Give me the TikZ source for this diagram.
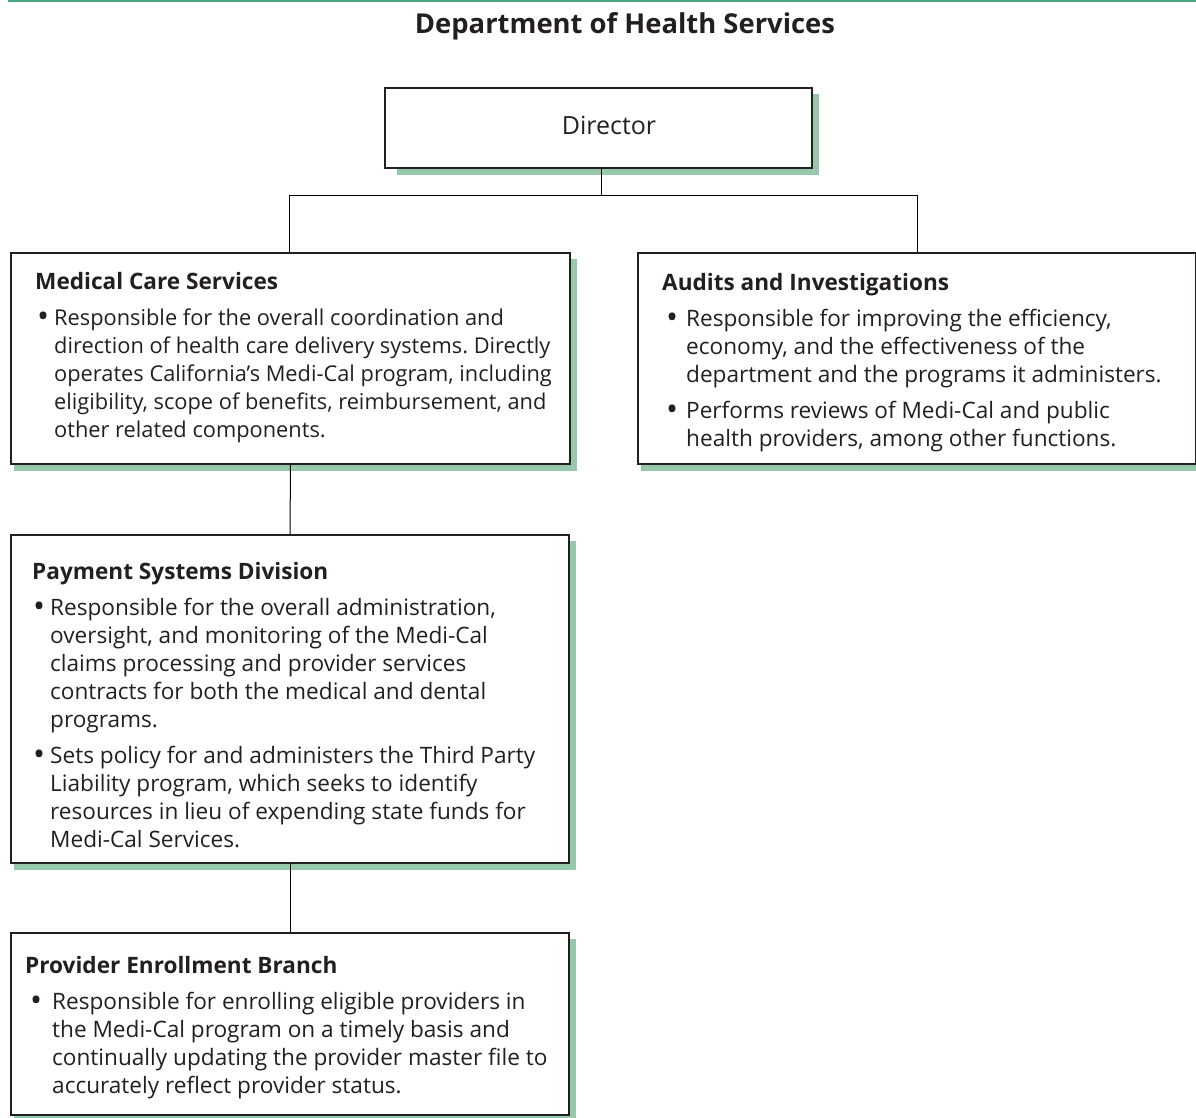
\documentclass[tikz,border=0pt]{standalone}
\usepackage{fontspec}
\setmainfont{Open Sans}
\usetikzlibrary{backgrounds,calc}
\frenchspacing

\definecolor{rulegreen}{RGB}{72,168,128}
\definecolor{shadegreen}{RGB}{152,200,172}
\definecolor{ink}{RGB}{35,31,32}

% one bullet item, lines broken by hand
\newcommand{\bitem}[2]{%
  \makebox[#1][l]{\raisebox{-2.5pt}{\fontsize{32}{28}\selectfont\textbullet}}%
  \begin{tabular}[t]{@{}l@{}}#2\end{tabular}}

\tikzset{
  unit/.style={draw=ink, line width=1.2pt, fill=white, rectangle, inner sep=0pt},
  head/.style={anchor=base west, inner sep=0pt, font=\fontsize{22.6}{28}\selectfont\bfseries},
  body/.style={anchor=base west, inner sep=0pt, font=\fontsize{22.6}{28}\selectfont},
  link/.style={draw=black, line width=1pt}
}

\begin{document}
\begin{tikzpicture}[x=1pt,y=-1pt,text=ink]
\useasboundingbox (0,0) rectangle (1196,1118);

\draw[rulegreen, line width=2pt] (8,1) -- (1196,1);
\node[anchor=base, inner sep=0pt, font=\fontsize{27.4}{32}\selectfont\bfseries] (title) at (625,34) {Department of Health Services};

% boxes
\node[unit, minimum width=427pt, minimum height=80pt] (dir) at (598.5,128) {};
\node[unit, minimum width=559pt, minimum height=211pt] (med) at (290.5,358.5) {};
\node[unit, minimum width=558pt, minimum height=211pt] (aud) at (917,358.5) {};
\node[unit, minimum width=558pt, minimum height=328pt] (pay) at (290,699) {};
\node[unit, minimum width=558pt, minimum height=182pt] (prov) at (290,1024) {};

\begin{scope}[on background layer]
\foreach \b/\s in {dir/13,med/4,aud/4,pay/4,prov/4}
  \fill[shadegreen] ($(\b.south west)+(\s,6)$) rectangle ($(\b.north east)+(6,7)$);
\end{scope}

% connectors
\draw[link] (dir.south) ++(2.5,0) -- ++(0,27) coordinate (fork);
\draw[link] (med.north) ++(-1.5,0) |- (fork) -| (aud.north);
\draw[link] (med.south) -- (pay.north);
\draw[link] (pay.south) -- (prov.north);

% texts
\node[anchor=base, inner sep=0pt, font=\fontsize{25}{28}\selectfont] (dirtxt) at (609,135) {Director};

\node[head] (medhead) at (35,289) {Medical Care Services};
\node[body, font=\fontsize{21.8}{28}\selectfont] (medtxt) at (37,325) {\bitem{17pt}{Responsible for the overall coordination and\\
  direction of health care delivery systems. Directly\\
  operates California's Medi-Cal program, including\\
  eligibility, scope of benefits, reimbursement, and\\
  other related components.}};

\node[head] (audhead) at (662,290) {Audits and Investigations};
\node[body] (audtxt1) at (666,326) {\bitem{20pt}{Responsible for improving the efficiency,\\
  economy, and the effectiveness of the\\
  department and the programs it administers.}};
\node[body] (audtxt2) at (666,418) {\bitem{20pt}{Performs reviews of Medi-Cal and public\\
  health providers, among other functions.}};

\node[head] (payhead) at (32,579) {Payment Systems Division};
\node[body] (paytxt1) at (33,615) {\bitem{17pt}{Responsible for the overall administration,\\
  oversight, and monitoring of the Medi-Cal\\
  claims processing and provider services\\
  contracts for both the medical and dental\\
  programs.}};
\node[body] (paytxt2) at (33,763) {\bitem{17pt}{Sets policy for and administers the Third Party\\
  Liability program, which seeks to identify\\
  resources in lieu of expending state funds for\\
  Medi-Cal Services.}};

\node[head] (provhead) at (25,973) {Provider Enrollment Branch};
\node[body] (provtxt) at (30,1009) {\bitem{22pt}{Responsible for enrolling eligible providers in\\
  the Medi-Cal program on a timely basis and\\
  continually updating the provider master file to\\
  accurately reflect provider status.}};
\end{tikzpicture}
\end{document}
